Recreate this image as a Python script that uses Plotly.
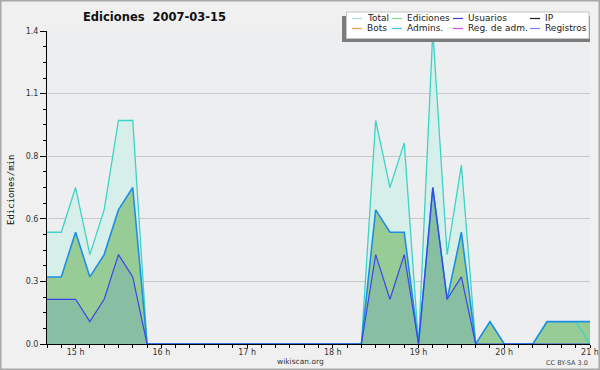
import plotly.graph_objects as go

# ---------------- data ----------------
day = "2007-03-15"
times = ["14:40", "14:50", "15:00", "15:10", "15:20", "15:30", "15:40", "15:50",
         "16:00", "16:10", "16:20", "16:30", "16:40", "16:50", "17:00", "17:10",
         "17:20", "17:30", "17:40", "17:50", "18:00", "18:10", "18:20", "18:30",
         "18:40", "18:50", "19:00", "19:10", "19:20", "19:30", "19:40", "19:50",
         "20:00", "20:10", "20:20", "20:30", "20:40", "20:50", "21:00"]

total = [0.5, 0.5, 0.7, 0.4, 0.6, 1.0, 1.0, 0.0,
         0, 0, 0, 0, 0, 0, 0, 0, 0, 0, 0, 0, 0, 0,
         0.0, 1.0, 0.7, 0.9, 0.0, 1.4, 0.4, 0.8, 0.0,
         0.1, 0.0, 0.0, 0.0, 0.1, 0.1, 0.1, 0.0]
ediciones = [0.3, 0.3, 0.5, 0.3, 0.4, 0.6, 0.7, 0.0,
             0, 0, 0, 0, 0, 0, 0, 0, 0, 0, 0, 0, 0, 0,
             0.0, 0.6, 0.5, 0.5, 0.0, 0.7, 0.2, 0.5, 0.0,
             0.1, 0.0, 0.0, 0.0, 0.1, 0.1, 0.1, 0.1]
usuarios = [0.2, 0.2, 0.2, 0.1, 0.2, 0.4, 0.3, 0.0,
            0, 0, 0, 0, 0, 0, 0, 0, 0, 0, 0, 0, 0, 0,
            0.0, 0.4, 0.2, 0.4, 0.0, 0.7, 0.2, 0.3, 0.0,
            0.0, 0.0, 0.0, 0.0, 0.0, 0.0, 0.0, 0.0]

y_tickvals = [0, 0.28, 0.56, 0.84, 1.12, 1.4]
y_ticktext = ["0.0", "0.3", "0.6", "0.8", "1.1", "1.4"]

legend_labels = [["Total", "Ediciones", "Usuarios", "IP"],
                 ["Bots", "Admins.", "Reg. de adm.", "Registros"]]
legend_colors = [["#a6e0e4", "#8ed48e", "#3c3ce0", "#1e1e1e"],
                 ["#f0a040", "#3cc6dc", "#cc4ce0", "#7e7ef0"]]

title_text = "Ediciones\u00a0 2007-03-15"
y_title = "Ediciones/min"

x = [f"{day} {t}" for t in times]

# ---------------- figure ----------------
W, H = 600, 370
ML, MR, MT, MB = 47, 10, 31, 26
PW, PH = W - ML - MR, H - MT - MB


def px(v):
    return (v - ML) / PW


def py(v):
    return (H - MB - v) / PH


series = [
    (total, "#d7efea", "#3ed3c6", 1.3),
    (ediciones, "#97cc97", "#1e8ee2", 1.6),
    (usuarios, "#88bfa3", "#3a46e6", 1.2),
]

fig = go.Figure()
# filled areas first
for vals, fillc, linec, lw in series:
    fig.add_trace(go.Scatter(x=x, y=vals, mode="lines", fill="tozeroy",
                             fillcolor=fillc, line=dict(width=0)))
# lines on top of all areas
for vals, fillc, linec, lw in series:
    fig.add_trace(go.Scatter(x=x, y=vals, mode="lines",
                             line=dict(color=linec, width=lw)))

tickfont = dict(family="DejaVu Sans", size=8, color="#333333")

fig.update_layout(
    width=W, height=H, showlegend=False,
    margin=dict(l=ML, r=MR, t=MT, b=MB, autoexpand=False),
    paper_bgcolor="#f0f0f0", plot_bgcolor="#edeef0",
    xaxis=dict(type="date", range=[f"{day} 14:40", f"{day} 21:00"],
               tick0=f"{day} 00:00", dtick=3600000, tickformat="%H h",
               ticks="outside", ticklen=3, tickcolor="black", tickwidth=1,
               ticklabelstandoff=-3,
               showline=True, linecolor="black", linewidth=1,
               showgrid=False, zeroline=False, tickfont=tickfont,
               minor=dict(tickmode="linear", tick0=f"{day} 00:00", dtick=600000,
                          ticks="outside", ticklen=3, tickcolor="black",
                          showgrid=False)),
    yaxis=dict(range=[0, 1.4003], tickmode="array", tickvals=y_tickvals,
               ticktext=y_ticktext, ticks="outside", ticklen=6,
               tickcolor="black", showline=True, linecolor="black",
               linewidth=1, showgrid=True, gridcolor="#c9c9c9", gridwidth=1,
               zeroline=False, tickfont=tickfont,
               minor=dict(tickmode="linear", tick0=0, dtick=0.07,
                          ticks="outside", ticklen=3, tickcolor="black",
                          showgrid=False)),
)

shapes = []
annotations = []

# outer border
shapes.append(dict(type="rect", xref="paper", yref="paper",
                   x0=px(0.5), x1=px(599.5), y0=py(369.5), y1=py(0.5),
                   line=dict(color="#a8a8a8", width=2), fillcolor="rgba(0,0,0,0)",
                   layer="above"))

# title
annotations.append(dict(text=f"<b>{title_text}</b>", xref="paper", yref="paper",
                        x=px(154), y=py(17), xanchor="center", yanchor="middle",
                        showarrow=False,
                        font=dict(family="DejaVu Sans", size=11.5, color="#111111")))
# y title
annotations.append(dict(text=y_title, xref="paper", yref="paper",
                        x=px(11), y=py(190), xanchor="center", yanchor="middle",
                        textangle=-90, showarrow=False,
                        font=dict(family="DejaVu Sans Mono", size=9, color="#111111")))
# footer
annotations.append(dict(text="wikiscan.org", xref="paper", yref="paper",
                        x=px(300), y=py(361), xanchor="center", yanchor="middle",
                        showarrow=False,
                        font=dict(family="DejaVu Sans", size=7.5, color="#333333")))
annotations.append(dict(text="CC BY-SA 3.0", xref="paper", yref="paper",
                        x=px(590), y=py(362.5), xanchor="right", yanchor="middle",
                        showarrow=False,
                        font=dict(family="DejaVu Sans", size=6.5, color="#444444")))

# legend box (shadow + box)
shapes.append(dict(type="rect", xref="paper", yref="paper",
                   x0=px(342), x1=px(590), y0=py(42), y1=py(16),
                   fillcolor="#7c7c7c", line=dict(width=0), layer="above"))
shapes.append(dict(type="rect", xref="paper", yref="paper",
                   x0=px(346.5), x1=px(589), y0=py(38.5), y1=py(12),
                   fillcolor="white", line=dict(color="#c4c4c4", width=1),
                   layer="above"))

col_x = [352, 392, 453, 530]
row_y = [18.5, 28.5]
for r, (labels, colors) in enumerate(zip(legend_labels, legend_colors)):
    for c, (lab, col) in enumerate(zip(labels, colors)):
        x0 = col_x[c]
        shapes.append(dict(type="line", xref="paper", yref="paper",
                           x0=px(x0), x1=px(x0 + 10), y0=py(row_y[r]), y1=py(row_y[r]),
                           line=dict(color=col, width=1.2), layer="above"))
        annotations.append(dict(text=lab, xref="paper", yref="paper",
                                x=px(x0 + 13), y=py(row_y[r]), xanchor="left",
                                yanchor="middle", showarrow=False,
                                font=dict(family="DejaVu Sans", size=9,
                                          color="#222222")))

fig.update_layout(shapes=shapes, annotations=annotations)
fig.write_html("out.html",
               config={"displayModeBar": False},
               post_script="document.body.style.margin='0';"
                           "document.body.style.padding='0';"
                           "document.body.style.overflow='hidden';")
